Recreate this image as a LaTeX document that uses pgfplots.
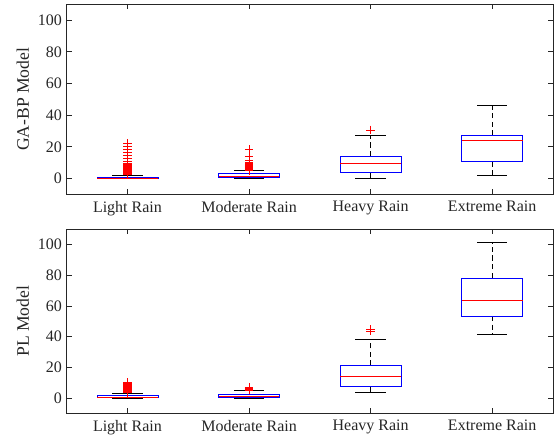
\documentclass[border=0pt]{standalone}
\usepackage{fontspec}
\setmainfont{Liberation Serif}
\usepackage{pgfplots}
\pgfplotsset{compat=1.18}
\usepgfplotslibrary{statistics}
\definecolor{axgray}{gray}{0.15}
\pgfplotsset{
  mlbox/.style={
    width=364.7pt, scale only axis,
    xmin=0.5, xmax=4.5, ymin=-10, ymax=110,
    xtick={1,2,3,4},
    xticklabels={Light Rain,Moderate Rain,Heavy Rain,Extreme Rain},
    ytick={0,20,...,100},
    tick align=inside, major tick length=3.8pt,
    axis line style={axgray, line width=0.5pt},
    every tick/.style={axgray, line width=0.5pt},
    tick label style={font=\fontsize{12}{14}\selectfont, text=axgray},
    xticklabel style={yshift=-1.5pt},
    /pgf/number format/assume math mode=true,
    ylabel style={font=\fontsize{13.2}{15}\selectfont, text=axgray,
      at={(axis description cs:-0.0899,0.5)}, anchor=center},
    boxplot/draw direction=y,
    boxplot/box extend=0.5,
    boxplot/whisker extend=0.25,
    boxplot/every box/.style={draw=blue, line width=0.5pt},
    boxplot/every median/.style={draw=red, line width=0.5pt},
    boxplot/draw/lower whisker/.code={
      \draw[black, line width=0.5pt, dash pattern=on 4pt off 2.5pt]
        (boxplot box cs:\pgfplotsboxplotvalue{lower quartile},0.5) --
        (boxplot box cs:\pgfplotsboxplotvalue{lower whisker},0.5);
      \draw[black, line width=0.5pt]
        (boxplot whisker cs:\pgfplotsboxplotvalue{lower whisker},0) --
        (boxplot whisker cs:\pgfplotsboxplotvalue{lower whisker},1);
    },
    boxplot/draw/upper whisker/.code={
      \draw[black, line width=0.5pt, dash pattern=on 4pt off 2.5pt]
        (boxplot box cs:\pgfplotsboxplotvalue{upper quartile},0.5) --
        (boxplot box cs:\pgfplotsboxplotvalue{upper whisker},0.5);
      \draw[black, line width=0.5pt]
        (boxplot whisker cs:\pgfplotsboxplotvalue{upper whisker},0) --
        (boxplot whisker cs:\pgfplotsboxplotvalue{upper whisker},1);
    },
  },
  bp/.style={black, line width=0.5pt, mark=+, mark size=3.2pt,
    mark options={red, solid, line width=0.5pt}},
}
\begin{document}
\begin{tikzpicture}
\useasboundingbox (-50pt,3.2pt) rectangle (367.7pt,-327.5pt);
% ---------------- GA-BP Model ----------------
\begin{axis}[mlbox, height=142.5pt, at={(0,0)}, anchor=north west,
  ylabel={GA-BP Model}]
\addplot[bp, boxplot prepared={draw position=1,
  lower whisker=0, lower quartile=0.05, median=0.3, upper quartile=0.9, upper whisker=2.2}]
  coordinates {(0,2.4) (0,2.7) (0,3.0) (0,3.3) (0,3.6) (0,3.9) (0,4.2) (0,4.5)
   (0,4.8) (0,5.1) (0,5.4) (0,5.7) (0,6.0) (0,6.4) (0,6.8) (0,7.2) (0,7.6)
   (0,8.0) (0,8.5) (0,9.0) (0,9.5) (0,10.8) (0,12.9) (0,14.6) (0,16.3)
   (0,18.2) (0,20.0) (0,22.0)};
\addplot[bp, boxplot prepared={draw position=2,
  lower whisker=0, lower quartile=0.4, median=1.5, upper quartile=3.2, upper whisker=4.9}]
  coordinates {(0,5.1) (0,5.4) (0,5.7) (0,6.0) (0,6.3) (0,6.6) (0,6.9) (0,7.2)
   (0,7.5) (0,7.8) (0,8.1) (0,8.5) (0,9.0) (0,9.5) (0,10.0) (0,11.4)
   (0,14.2) (0,18.4)};
\addplot[bp, boxplot prepared={draw position=3,
  lower whisker=0, lower quartile=3.8, median=9.7, upper quartile=14.0, upper whisker=27.1}]
  coordinates {(0,30.7)};
\addplot[bp, boxplot prepared={draw position=4,
  lower whisker=1.9, lower quartile=10.8, median=24.3, upper quartile=27.1, upper whisker=46.3}]
  coordinates {};
\end{axis}
% ---------------- PL Model ----------------
\begin{axis}[mlbox, height=138pt, at={(0,-168.75pt)}, anchor=north west,
  ylabel={PL Model}]
\addplot[bp, boxplot prepared={draw position=1,
  lower whisker=0, lower quartile=0.1, median=0.6, upper quartile=1.4, upper whisker=3.3}]
  coordinates {(0,3.5) (0,3.8) (0,4.1) (0,4.4) (0,4.7) (0,5.0) (0,5.3) (0,5.6)
   (0,5.9) (0,6.2) (0,6.5) (0,6.8) (0,7.1) (0,7.4) (0,7.7) (0,8.0) (0,8.3)
   (0,8.6) (0,9.0) (0,9.5) (0,10.0)};
\addplot[bp, boxplot prepared={draw position=2,
  lower whisker=0, lower quartile=0.1, median=1.1, upper quartile=2.4, upper whisker=4.8}]
  coordinates {(0,5.2) (0,5.5) (0,5.8) (0,6.1) (0,6.4) (0,6.7) (0,7.0)};
\addplot[bp, boxplot prepared={draw position=3,
  lower whisker=3.5, lower quartile=7.4, median=13.9, upper quartile=21.1, upper whisker=38.5}]
  coordinates {(0,43.7) (0,44.8)};
\addplot[bp, boxplot prepared={draw position=4,
  lower whisker=41.5, lower quartile=53.5, median=63.9, upper quartile=78.3, upper whisker=101.3}]
  coordinates {};
\end{axis}
\end{tikzpicture}
\end{document}
